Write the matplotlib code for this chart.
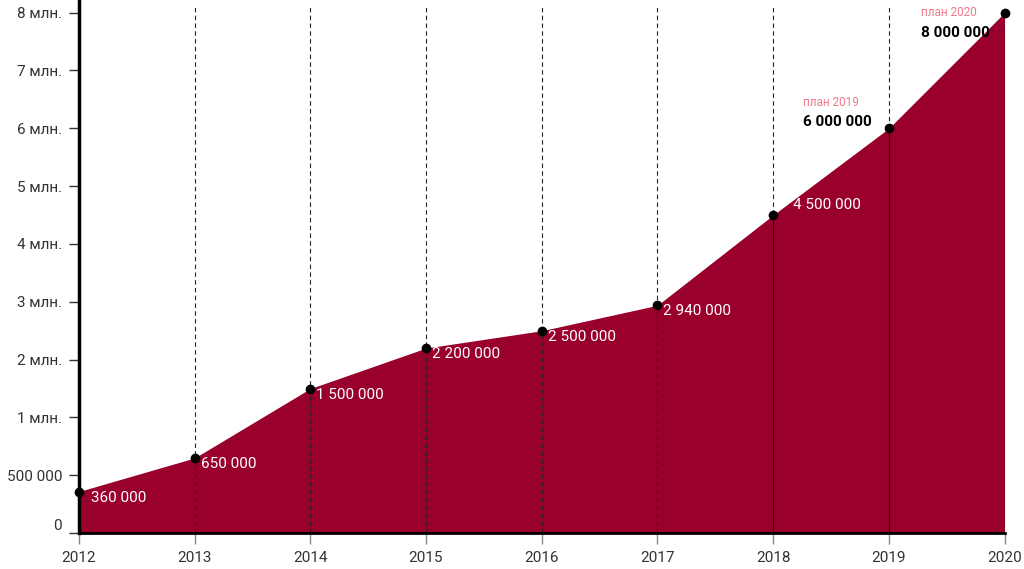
import numpy as np
import matplotlib.pyplot as plt

years = [2012, 2013, 2014, 2015, 2016, 2017, 2018, 2019, 2020]
values = [360000, 650000, 1500000, 2200000, 2500000, 2940000, 4500000, 6000000, 8000000]
labels = ['360 000', '650 000', '1 500 000', '2 200 000', '2 500 000',
          '2 940 000', '4 500 000', '6 000 000', '8 000 000']
plan_labels = {2019: 'план 2019', 2020: 'план 2020'}

ytick_vals = [0, 500000, 1e6, 2e6, 3e6, 4e6, 5e6, 6e6, 7e6, 8e6]
ytick_labels = ['0', '500 000', '1 млн.', '2 млн.', '3 млн.', '4 млн.',
                '5 млн.', '6 млн.', '7 млн.', '8 млн.']

FILL = '#9a002c'
PINK = '#f07a8a'

plt.rcParams['font.family'] = ['Roboto', 'DejaVu Sans']


# the first million is drawn at double scale
def fwd(v):
    v = np.asarray(v, dtype=float)
    return np.where(v < 1e6, 2 * v - 1e6, v)


def inv(p):
    p = np.asarray(p, dtype=float)
    return np.where(p < 1e6, (p + 1e6) / 2, p)


fig = plt.figure(figsize=(10.24, 5.69), dpi=100)
ax = fig.add_axes([0.077, 0.063, 0.904, 0.927])
ax.set_yscale('function', functions=(fwd, inv))

ax.fill_between(years, values, 0, color=FILL, lw=0, zorder=1)

for i, yr in enumerate(years[1:], start=1):
    ax.axvline(yr, color='#222222', lw=0.8, ls=(0, (4, 3)), zorder=2)
    if yr >= 2018:
        ax.plot([yr, yr], [0, values[i]], color='#111111', lw=0.8, zorder=2)

ax.plot(years, values, 'o', color='black', ms=6, zorder=4, clip_on=False)

# data labels
for yr, v, lab in zip(years, values, labels):
    if yr in plan_labels:
        if yr == 2019:
            dx, dy = -86, 6
        else:
            dx, dy = -84, -20
        ax.annotate(lab, (yr, v), xytext=(dx, dy), textcoords='offset pixels',
                    color='black', fontsize=11, fontweight='bold', va='center', ha='left')
        ax.annotate(plan_labels[yr], (yr, v), xytext=(dx, dy + 20), textcoords='offset pixels',
                    color=PINK, fontsize=8.5, va='center', ha='left')
    elif yr == 2018:
        ax.annotate(lab, (yr, v), xytext=(20, 10), textcoords='offset pixels',
                    color='white', fontsize=11, va='center', ha='left')
    else:
        dx = 12 if yr == 2012 else 6
        ax.annotate(lab, (yr, v), xytext=(dx, -6), textcoords='offset pixels',
                    color='white', fontsize=11, va='center', ha='left')

ax.set_xlim(2012, 2020)
ax.set_ylim(0, 8.12e6)
ax.set_xticks(years)
ax.set_xticklabels([str(y) for y in years])
ax.set_yticks(ytick_vals)
ax.set_yticklabels(ytick_labels)
ax.get_yticklabels()[0].set_va('bottom')

ax.tick_params(axis='x', colors='#888888', length=8, width=1, labelcolor='#333333',
               labelsize=11, pad=5)
ax.tick_params(axis='y', colors='#333333', length=7, width=1, labelcolor='#333333',
               labelsize=11, pad=5)

for s in ['top', 'right']:
    ax.spines[s].set_visible(False)
ax.spines['left'].set_linewidth(2.5)
ax.spines['bottom'].set_linewidth(2)
ax.spines['left'].set_bounds(0, 8.25e6)

fig.savefig('out.png', dpi=100)
